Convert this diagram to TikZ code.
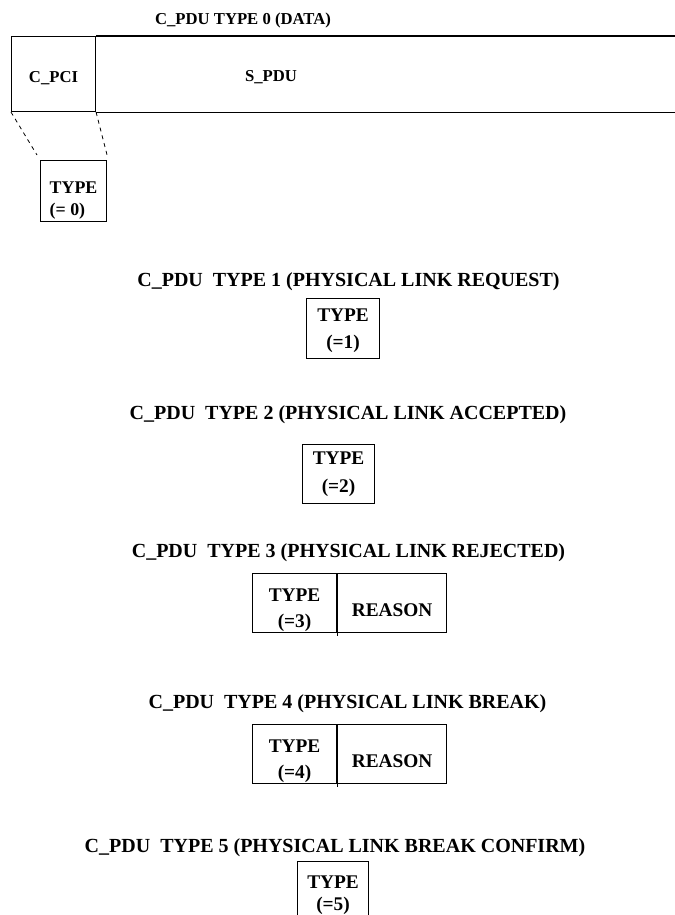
\documentclass[tikz,border=0pt]{standalone}
\usepackage{fontspec}
\setmainfont{Liberation Serif}
\usetikzlibrary{positioning}
\newlength{\px}
\setlength{\px}{0.75pt}

\begin{document}
\begin{tikzpicture}[x=0.75pt,y=-0.75pt,
  title/.style={inner sep=0pt,font=\bfseries\fontsize{15}{17}\selectfont},
  small/.style={font=\bfseries\fontsize{12.5}{14}\selectfont},
  cell/.style={draw,line width=0.8pt,inner sep=0pt,align=center,minimum height=59\px,font=\bfseries\fontsize{14.5}{19}\selectfont},
  sink/.style={text height=#1,text depth=2.6pt},
  hint/.style={dashed,line width=0.6pt}]
  \clip (0,0) rectangle (675,915);
  % type 0: data frame
  \node[title,small] (h0) at (243,20) {C\_PDU TYPE 0 (DATA)};
  \node[cell,small,text height=13.6pt,text depth=1.6pt,anchor=north west,minimum width=84\px,minimum height=75\px] (cpci) at (11,36) {C\_PCI};
  \coordinate (rim) at (675,36);
  \draw[line width=0.8pt] (cpci.north east) -- (cpci.north east -| rim);
  \draw[line width=0.8pt] (cpci.south east) -- (cpci.south east -| rim);
  \node[small] (spdu) at (271,77) {S\_PDU};
  \node[cell,text height=38.4pt,text depth=2.4pt,anchor=north west,align=left,minimum width=66\px,minimum height=61\px,
        font=\bfseries\fontsize{13.4}{16.5}\selectfont] (ty0) at (40,160) {TYPE\\(= 0)};
  \draw[hint] (cpci.south west) -- ([shift={(-3,-5)}]ty0.north west);
  \draw[hint] (cpci.south east) -- ([shift={(0,-5)}]ty0.north east);
  % type 1
  \node[title] (h1) at (348.5,282) {C\_PDU\ \ TYPE 1 (PHYSICAL LINK REQUEST)};
  \node[cell,sink=32.2pt,anchor=north west,minimum width=73\px,minimum height=60\px] (ty1) at (306,298) {TYPE\\[1.25pt](=1)};
  % type 2
  \node[title] (h2) at (348,415) {C\_PDU\ \ TYPE 2 (PHYSICAL LINK ACCEPTED)};
  \node[cell,anchor=north west,minimum width=72\px] (ty2) at (302,444) {TYPE\\[2pt](=2)};
  % type 3
  \node[title] (h3) at (348.5,553) {C\_PDU\ \ TYPE 3 (PHYSICAL LINK REJECTED)};
  \node[cell,sink=38.8pt,anchor=north west,minimum width=84\px] (ty3) at (252,573) {TYPE\\(=3)};
  \node[cell,text height=19.6pt,text depth=0pt,right=0pt of ty3,minimum width=109\px] (rs3) {REASON};
  \draw[line width=0.8pt] (ty3.south east) -- ++(0,3);
  % type 4
  \node[title] (h4) at (347.5,704) {C\_PDU\ \ TYPE 4 (PHYSICAL LINK BREAK)};
  \node[cell,sink=38.8pt,anchor=north west,minimum width=84\px] (ty4) at (252,724) {TYPE\\(=4)};
  \node[cell,text height=19.6pt,text depth=0pt,right=0pt of ty4,minimum width=109\px] (rs4) {REASON};
  \draw[line width=0.8pt] (ty4.south east) -- ++(0,3);
  % type 5
  \node[title] (h5) at (335,848) {C\_PDU\ \ TYPE 5 (PHYSICAL LINK BREAK CONFIRM)};
  \node[cell,sink=30.8pt,anchor=north west,minimum width=71\px,minimum height=60\px] (ty5) at (297,861) {TYPE\\[-2.5pt](=5)};
\end{tikzpicture}
\end{document}
